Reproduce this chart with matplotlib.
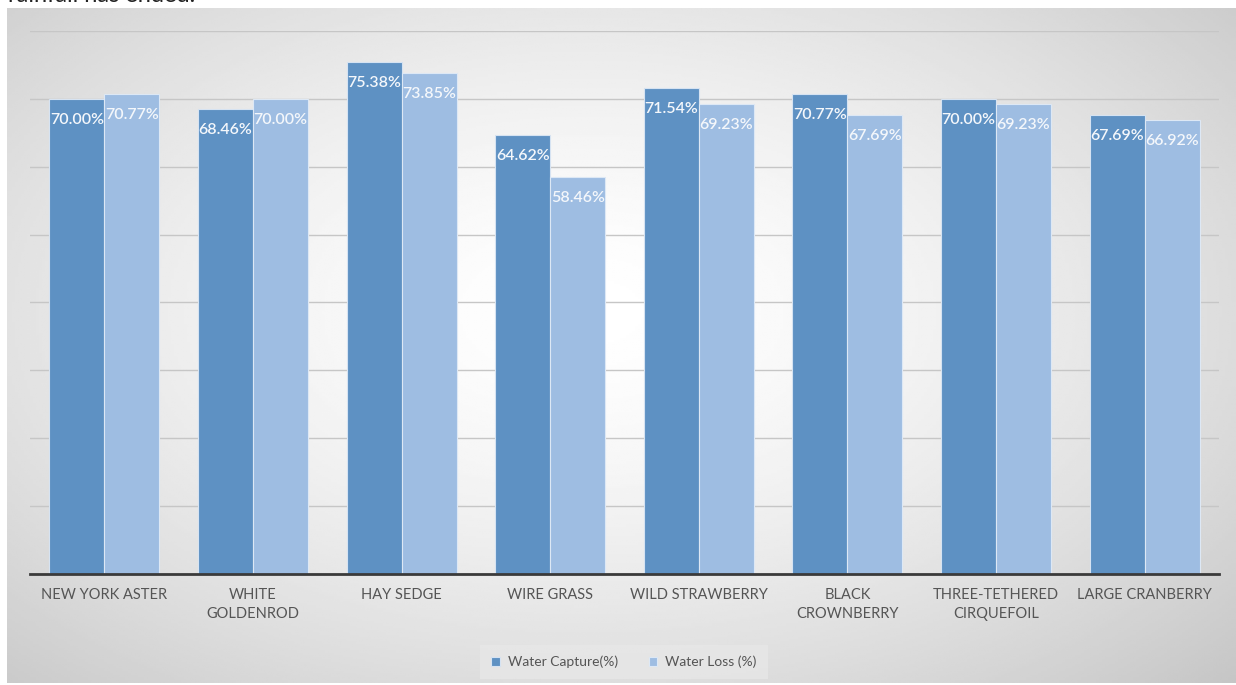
import numpy as np
import matplotlib.pyplot as plt

# data
plants = ["NEW YORK ASTER", "WHITE\nGOLDENROD", "HAY SEDGE", "WIRE GRASS",
          "WILD STRAWBERRY", "BLACK\nCROWNBERRY", "THREE-TETHERED\nCIRQUEFOIL",
          "LARGE CRANBERRY"]
capture = [70.00, 68.46, 75.38, 64.62, 71.54, 70.77, 70.00, 67.69]
loss = [70.77, 70.00, 73.85, 58.46, 69.23, 67.69, 69.23, 66.92]

plt.rcParams['font.family'] = ['Lato', 'DejaVu Sans']

W, H = 1236, 685
fig = plt.figure(figsize=(W/100, H/100), dpi=100)
fig.patch.set_facecolor('white')

# chart background with radial gradient
bg = fig.add_axes([7/W, 2/H, 1229/W, 675/H])
bg.set_axis_off()
gx, gy = np.meshgrid(np.linspace(0, 1, 400), np.linspace(0, 1, 300))
r = np.sqrt(((gx-0.47)/0.75)**2 + ((gy-0.45)/0.8)**2)
shade = 1.0 - 0.23*np.clip(r, 0, 1)**1.5
bg.imshow(shade, cmap='gray', vmin=0, vmax=1, aspect='auto',
          extent=[0, 1, 0, 1], origin='upper')
bg.set_xlim(0, 1)
bg.set_ylim(0, 1)

# caption text of the page above the chart (cut off in the original)
fig.text(8/W, 1 - 2/H, "rainfall has ended.", fontsize=17, color='#222222',
         va='baseline', ha='left')

ax = fig.add_axes([30/W, (H-574)/H, 1189/W, 543/H])
ax.patch.set_alpha(0)
x = np.arange(len(plants))
w = 0.37
dark = '#5e91c3'
light = '#9ebde2'
b1 = ax.bar(x - w/2, capture, w, color=dark, edgecolor='#d6e3f2', linewidth=0.8,
            label='Water Capture(%)', zorder=3)
b2 = ax.bar(x + w/2, loss, w, color=light, edgecolor='#dde8f5', linewidth=0.8,
            label='Water Loss (%)', zorder=3)

for bars, vals in ((b1, capture), (b2, loss)):
    for b, v in zip(bars, vals):
        ax.annotate(f"{v:.2f}%", (b.get_x() + b.get_width()/2, v),
                    xytext=(0, -21), textcoords='offset pixels',
                    ha='center', va='center', color='#f4f7fb', fontsize=11.5,
                    fontweight='semibold', zorder=4)

ax.set_xlim(-0.5, len(plants) - 0.5)
ax.set_ylim(0, 80)
ax.set_yticks(np.arange(0, 81, 10))
ax.set_yticklabels([])
ax.tick_params(axis='y', length=0)
ax.tick_params(axis='x', length=0, pad=10, labelsize=10.5, labelcolor='#555555')
ax.set_xticks(x)
ax.set_xticklabels(plants, linespacing=1.5)
ax.grid(axis='y', color='#c6c6c6', linewidth=1, zorder=0)
for s in ('top', 'right', 'left'):
    ax.spines[s].set_visible(False)
ax.spines['bottom'].set_color('#3a3a3a')
ax.spines['bottom'].set_linewidth(2)
ax.spines['bottom'].set_zorder(5)

leg = fig.legend(loc='center', bbox_to_anchor=(0.505, (H-662)/H), ncol=2,
                 frameon=True, fontsize=10, handlelength=0.6, handleheight=0.6,
                 columnspacing=2.2, handletextpad=0.6, borderpad=0.55,
                 borderaxespad=0)
leg.get_frame().set_facecolor('#e8e8e8')
leg.get_frame().set_edgecolor('none')
leg.get_frame().set_alpha(0.7)
leg.get_frame().set_boxstyle('square', pad=0.25)
for t in leg.get_texts():
    t.set_color('#555555')

fig.savefig('out.png', dpi=100)
